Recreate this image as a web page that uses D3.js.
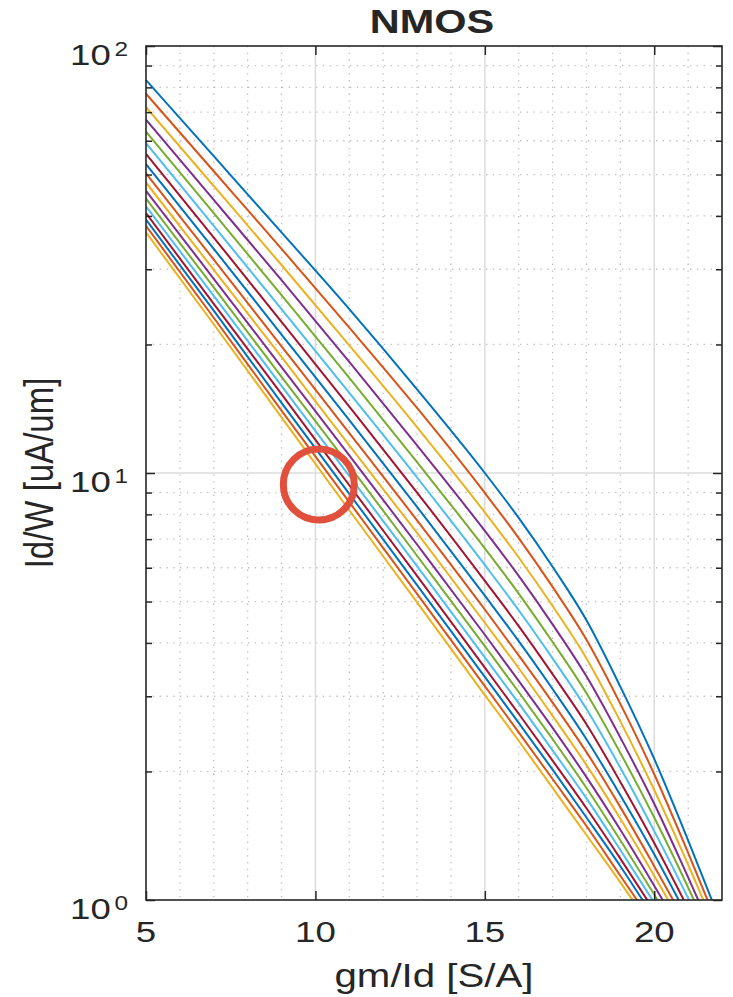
<!DOCTYPE html>
<html>
<head>
<meta charset="utf-8">
<script src="https://cdn.jsdelivr.net/npm/d3@7"></script>
<style>
  html, body { margin: 0; padding: 0; background: #ffffff; }
  svg { display: block; }
  text { font-family: "Liberation Sans", Arial, Helvetica, sans-serif; fill: #262626; }
</style>
</head>
<body>
<script>
// ---------------- data ----------------
const title = "NMOS";
const xLabel = "gm/Id [S/A]";
const yLabel = "Id/W [uA/um]";

const gmId = [5, 7, 9, 11, 13, 15, 16, 17, 18, 19, 20, 21, 22];

const curve01 = [83.2, 55.2, 36.6, 24.2, 15.7, 10.0, 7.85, 6.03, 4.52, 3.16, 2.14, 1.38, 0.871];
const curve02 = [77.3, 50.9, 33.5, 21.9, 14.2, 8.98, 7.04, 5.41, 4.07, 2.88, 1.97, 1.29, 0.827];
const curve03 = [71.9, 47.0, 30.7, 19.9, 12.8, 8.09, 6.34, 4.88, 3.68, 2.62, 1.81, 1.21, 0.786];
const curve04 = [67.2, 43.6, 28.3, 18.2, 11.6, 7.32, 5.74, 4.42, 3.34, 2.40, 1.68, 1.13, 0.750];
const curve05 = [63.0, 40.6, 26.1, 16.7, 10.6, 6.66, 5.22, 4.02, 3.05, 2.21, 1.56, 1.07, 0.716];
const curve06 = [59.2, 37.9, 24.2, 15.4, 9.76, 6.09, 4.77, 3.68, 2.80, 2.04, 1.45, 1.01, 0.686];
const curve07 = [55.9, 35.6, 22.6, 14.3, 9.00, 5.59, 4.38, 3.38, 2.58, 1.89, 1.36, 0.955];
const curve08 = [52.9, 33.5, 21.1, 13.3, 8.33, 5.16, 4.04, 3.12, 2.38, 1.76, 1.28, 0.907];
const curve09 = [50.3, 31.6, 19.8, 12.4, 7.75, 4.79, 3.74, 2.90, 2.22, 1.65, 1.20, 0.865];
const curve10 = [47.9, 29.9, 18.7, 11.6, 7.24, 4.46, 3.49, 2.70, 2.07, 1.55, 1.14, 0.827];
const curve11 = [45.8, 28.5, 17.7, 11.0, 6.80, 4.18, 3.26, 2.53, 1.94, 1.46, 1.08, 0.793];
const curve12 = [43.9, 27.2, 16.8, 10.4, 6.40, 3.93, 3.07, 2.38, 1.83, 1.38, 1.03, 0.763];
const curve13 = [42.1, 26.0, 16.0, 9.84, 6.05, 3.70, 2.89, 2.24, 1.73, 1.31, 0.986];
const curve14 = [40.6, 24.9, 15.3, 9.36, 5.74, 3.50, 2.73, 2.12, 1.64, 1.25, 0.944];
const curve15 = [39.2, 24.0, 14.6, 8.94, 5.46, 3.33, 2.60, 2.02, 1.56, 1.20, 0.907];
const curve16 = [37.9, 23.1, 14.0, 8.55, 5.21, 3.17, 2.47, 1.92, 1.49, 1.14, 0.873];
const curve17 = [36.6, 22.3, 13.5, 8.18, 4.98, 3.02, 2.36, 1.83, 1.42, 1.10, 0.841];

const curves = [curve01, curve02, curve03, curve04, curve05, curve06, curve07, curve08, curve09,
                curve10, curve11, curve12, curve13, curve14, curve15, curve16, curve17];

const colorOrder = ["#0072BD", "#D95319", "#EDB120", "#7E2F8E", "#77AC30", "#4DBEEE", "#A2142F"];

const xTicks = [5, 10, 15, 20];
const xTickLabels = ["5", "10", "15", "20"];
const yTicks = [1, 10, 100];
const yTickExponents = ["0", "1", "2"];
const xMinorGrid = [6, 7, 8, 9, 11, 12, 13, 14, 16, 17, 18, 19, 21];
const yMinor = [2, 3, 4, 5, 6, 7, 8, 9, 20, 30, 40, 50, 60, 70, 80, 90];

// annotation circle (data coords)
const markPoint = { x: 10.1, y: 9.4 };

// ---------------- layout ----------------
const W = 733, H = 997;
const L = 146, R = 722, T = 46, B = 900;
const SX = 1.22; // horizontal stretch of text

const svg = d3.select("body").append("svg").attr("width", W).attr("height", H);

const x = d3.scaleLinear().domain([5, 22]).range([L, R]);
const y = d3.scaleLog().domain([1, 100]).range([B, T]);

svg.append("rect").attr("x", L).attr("y", T).attr("width", R - L).attr("height", B - T).attr("fill", "#fff");

// grid
const grid = svg.append("g");
grid.selectAll(".xmin").data(xMinorGrid).join("line")
  .attr("x1", d => x(d)).attr("x2", d => x(d)).attr("y1", T).attr("y2", B)
  .attr("stroke", "#bdbdbd").attr("stroke-width", 1.3).attr("stroke-dasharray", "1.3,5.5");
grid.selectAll(".ymin").data(yMinor).join("line")
  .attr("y1", d => y(d)).attr("y2", d => y(d)).attr("x1", L).attr("x2", R)
  .attr("stroke", "#bdbdbd").attr("stroke-width", 1.3).attr("stroke-dasharray", "1.3,5.5");
grid.selectAll(".xmaj").data(xTicks.filter(d => d > 5)).join("line")
  .attr("x1", d => x(d)).attr("x2", d => x(d)).attr("y1", T).attr("y2", B)
  .attr("stroke", "#dcdcdc").attr("stroke-width", 1.5);
grid.selectAll(".ymaj").data([10]).join("line")
  .attr("y1", d => y(d)).attr("y2", d => y(d)).attr("x1", L).attr("x2", R)
  .attr("stroke", "#dcdcdc").attr("stroke-width", 1.5);

// curves
svg.append("clipPath").attr("id", "clip").append("rect")
  .attr("x", L).attr("y", T).attr("width", R - L).attr("height", B - T);

const line = d3.line()
  .x(d => x(d[0])).y(d => y(d[1]))
  .curve(d3.curveMonotoneX);

svg.append("g").attr("clip-path", "url(#clip)")
  .selectAll("path").data(curves).join("path")
  .attr("d", c => line(c.map((v, i) => [gmId[i], v])))
  .attr("fill", "none")
  .attr("stroke", (c, i) => colorOrder[i % colorOrder.length])
  .attr("stroke-width", 2)
  .attr("stroke-linejoin", "round");

// ticks (inward) via d3 axes
const axCol = "#262626";
function styleAxis(g) {
  g.select(".domain").remove();
  g.selectAll(".tick line").attr("stroke", axCol).attr("stroke-width", 1.5);
  g.selectAll(".tick text").remove();
}
svg.append("g").attr("transform", `translate(0,${B})`)
  .call(d3.axisBottom(x).tickValues(xTicks).tickSize(-9).tickFormat("")).call(styleAxis);
svg.append("g").attr("transform", `translate(0,${T})`)
  .call(d3.axisTop(x).tickValues(xTicks).tickSize(-9).tickFormat("")).call(styleAxis);
svg.append("g").attr("transform", `translate(${L},0)`)
  .call(d3.axisLeft(y).tickValues(yTicks).tickSize(-9).tickFormat("")).call(styleAxis);
svg.append("g").attr("transform", `translate(${R},0)`)
  .call(d3.axisRight(y).tickValues(yTicks).tickSize(-9).tickFormat("")).call(styleAxis);
svg.append("g").attr("transform", `translate(${L},0)`)
  .call(d3.axisLeft(y).tickValues(yMinor).tickSize(-6).tickFormat("")).call(styleAxis);
svg.append("g").attr("transform", `translate(${R},0)`)
  .call(d3.axisRight(y).tickValues(yMinor).tickSize(-6).tickFormat("")).call(styleAxis);

// box
svg.append("rect").attr("x", L).attr("y", T).attr("width", R - L).attr("height", B - T)
  .attr("fill", "none").attr("stroke", axCol).attr("stroke-width", 1.6);

// x tick labels
svg.append("g").selectAll("text").data(xTicks).join("text")
  .attr("transform", d => `translate(${x(d)},942) scale(${SX},1)`)
  .attr("text-anchor", "middle").attr("font-size", 30)
  .text((d, i) => xTickLabels[i]);

// y tick labels 10^n
const yl = svg.append("g").selectAll("text").data(yTicks).join("text")
  .attr("transform", d => `translate(128,${y(d) + 19}) scale(${SX},1)`)
  .attr("text-anchor", "end").attr("font-size", 30);
yl.append("tspan").text("10");
yl.append("tspan").attr("dx", 3).attr("dy", -9).attr("font-size", 20).text((d, i) => yTickExponents[i]);

// axis labels
svg.append("text")
  .attr("transform", `translate(${(L + R) / 2},987) scale(${SX},1)`)
  .attr("text-anchor", "middle").attr("font-size", 33).text(xLabel);
svg.append("text")
  .attr("transform", `translate(53,${(T + B) / 2}) scale(${SX},1) rotate(-90)`)
  .attr("text-anchor", "middle").attr("font-size", 33).text(yLabel);

// title
svg.append("text")
  .attr("transform", `translate(${(L + R) / 2 - 2},33) scale(${SX},1)`)
  .attr("text-anchor", "middle").attr("font-size", 34).attr("font-weight", "bold").text(title);

// annotation circle
svg.append("circle")
  .attr("cx", x(markPoint.x)).attr("cy", y(markPoint.y)).attr("r", 35.5)
  .attr("fill", "none").attr("stroke", "#E0503C").attr("stroke-width", 7);
</script>
</body>
</html>
